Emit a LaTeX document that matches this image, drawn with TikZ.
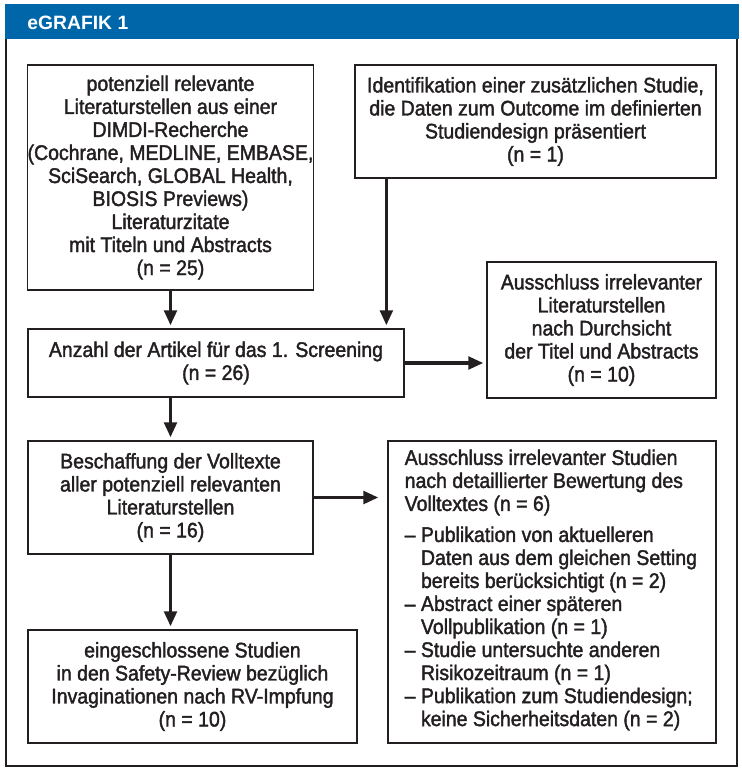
\documentclass[tikz,border=0pt]{standalone}
\usepackage{fontspec}
\setmainfont{Liberation Sans}[FakeStretch=0.92,FakeBold=1.8]
\newfontfamily\titlefont{Liberation Sans}
\usetikzlibrary{arrows.meta}
\definecolor{headblue}{RGB}{0,102,170}
\definecolor{textgray}{RGB}{35,31,32}
\newcommand{\contind}{\phantom{–\ }}

\begin{document}
\begin{tikzpicture}[x=0.02cm,y=-0.02cm,
    txt/.style={inner sep=0pt,text=textgray,font=\fontsize{12.05}{13.1}\selectfont},
    box/.style={txt,draw=textgray,line width=0.026cm,align=center},
    flow/.style={-{Triangle[length=0.3cm,width=0.25cm]},line width=0.07cm,textgray,shorten >=0.06cm}]
    \useasboundingbox (0,0) rectangle (741,768);
    \fill[headblue] (5,4) rectangle (739,39);
    \node[anchor=base west,inner sep=0pt,text=white,font=\titlefont\fontsize{11}{13}\selectfont\bfseries] (title) at (27,29) {eGRAFIK 1};
    \draw[line width=0.04cm,textgray] (6,39) |- (737,766) -- (737,39);

    \node[box,minimum width=5.70cm,minimum height=4.50cm] (lit) at (170.5,177.5) {potenziell relevante\\Literaturstellen aus einer\\DIMDI-Recherche\\(Cochrane, MEDLINE, EMBASE,\\SciSearch, GLOBAL Health,\\BIOSIS Previews)\\Literaturzitate\\mit Titeln und Abstracts\\(n = 25)};
    \node[box,minimum width=7.22cm,minimum height=2.26cm] (ident) at (535.5,121.5) {Identifikation einer zusätzlichen Studie,\\die Daten zum Outcome im definierten\\Studiendesign präsentiert\\(n = 1)};
    \node[box,minimum width=7.52cm,minimum height=1.36cm] (screen) at (216,363) {Anzahl der Artikel für das 1. Screening\\(n = 26)};
    \node[box,minimum width=4.58cm,minimum height=2.72cm] (excl1) at (601.5,330) {Ausschluss irrelevanter\\Literaturstellen\\nach Durchsicht\\der Titel und Abstracts\\(n = 10)};
    \node[box,minimum width=5.70cm,minimum height=2.26cm] (fulltext) at (170.5,497.5) {Beschaffung der Volltexte\\aller potenziell relevanten\\Literaturstellen\\(n = 16)};
    \node[box,minimum width=6.56cm,minimum height=6.04cm] (excl2) at (552,592) {};
    \node[txt,align=left,anchor=west] (excl2text) at ([xshift=0.34cm,yshift=0.04cm]excl2.west) {Ausschluss irrelevanter Studien\\nach detaillierter Bewertung des\\Volltextes (n = 6)\\[0.16cm]– Publikation von aktuelleren\\\contind Daten aus dem gleichen Setting\\\contind bereits berücksichtigt (n = 2)\\– Abstract einer späteren\\\contind Vollpublikation (n = 1)\\– Studie untersuchte anderen\\\contind Risikozeitraum (n = 1)\\– Publikation zum Studiendesign;\\\contind keine Sicherheitsdaten (n = 2)};
    \node[box,minimum width=6.58cm,minimum height=2.26cm] (incl) at (192.5,686.5) {eingeschlossene Studien\\in den Safety-Review bezüglich\\Invaginationen nach RV-Impfung\\(n = 10)};

    \draw[flow] (lit.south) -- (lit.south |- screen.north);
    \draw[flow] ([xshift=0.64cm]ident.south west) -- ([xshift=0.64cm]ident.south west |- screen.north);
    \draw[flow] (screen.east) -- (screen.east -| excl1.west);
    \draw[flow] (lit.south |- screen.south) -- (fulltext.north);
    \draw[flow,shorten >=0.18cm] (fulltext.east) -- (fulltext.east -| excl2.west);
    \draw[flow] (fulltext.south) -- (fulltext.south |- incl.north);
\end{tikzpicture}
\end{document}
